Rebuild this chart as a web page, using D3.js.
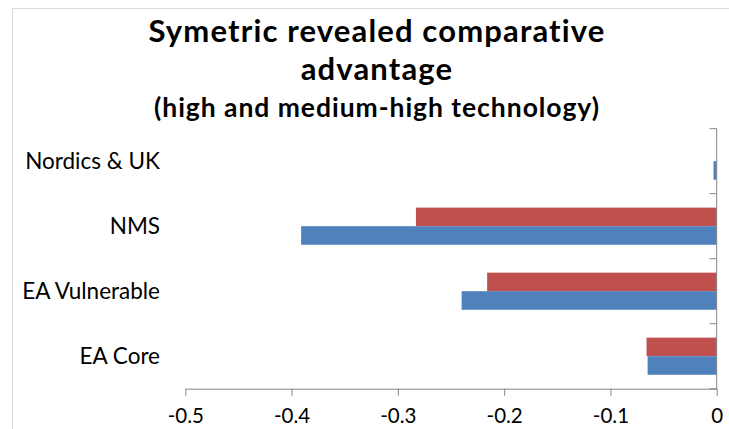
<!DOCTYPE html>
<html>
<head>
<meta charset="utf-8">
<script src="https://cdn.jsdelivr.net/npm/d3@7"></script>
<style>
  html, body { margin: 0; padding: 0; background: #fff; }
  svg { display: block; }
  text { font-family: Lato, "Open Sans", sans-serif; fill: #000; }
</style>
</head>
<body>
<svg id="chart" width="729" height="429"></svg>
<script>
// Categories listed bottom to top, as they appear on the axis
const categories = ["EA Core", "EA Vulnerable", "NMS", "Nordics & UK"];
const blueValues = [-0.065, -0.240, -0.391, -0.003];
const redValues  = [-0.066, -0.216, -0.283, 0.000];
const xTicks = [-0.5, -0.4, -0.3, -0.2, -0.1, 0];
const titleLines = ["Symetric revealed comparative", "advantage"];
const subtitle = "(high and medium-high technology)";

const svg = d3.select("#chart");
const W = 729, H = 429;
const plot = { left: 185.3, right: 716.7, top: 128.7, bottom: 388.7 };

// chart frame
svg.append("rect")
  .attr("x", 12.5).attr("y", 8.5)
  .attr("width", W).attr("height", H)
  .attr("fill", "none").attr("stroke", "#d9d9d9").attr("stroke-width", 1);

// titles
const cx = 377;
svg.append("text").attr("x", cx).attr("y", 42)
  .attr("text-anchor", "middle").attr("font-weight", 700).attr("font-size", 31)
  .attr("letter-spacing", 1.15)
  .text(titleLines[0]);
svg.append("text").attr("x", cx).attr("y", 80)
  .attr("text-anchor", "middle").attr("font-weight", 700).attr("font-size", 31)
  .attr("letter-spacing", 1.15)
  .text(titleLines[1]);
svg.append("text").attr("x", cx).attr("y", 117)
  .attr("text-anchor", "middle").attr("font-weight", 700).attr("font-size", 26.5)
  .attr("letter-spacing", 0.95)
  .text(subtitle);

// scales
const x = d3.scaleLinear().domain([-0.5, 0]).range([plot.left, plot.right]);
const y = d3.scaleBand()
  .domain(categories.slice().reverse())
  .range([plot.top, plot.bottom])
  .padding(0);
const sub = d3.scaleBand()
  .domain(["red", "blue"])
  .range([0, y.bandwidth()])
  .paddingInner(0).paddingOuter(0.75);

const rows = categories.map((c, i) => ({ cat: c, red: redValues[i], blue: blueValues[i] }));
const colors = { red: "#c0504d", blue: "#4f81bd" };

const g = svg.append("g");
["red", "blue"].forEach(s => {
  g.selectAll("rect." + s)
    .data(rows)
    .join("rect")
    .attr("class", s)
    .attr("x", d => x(Math.min(0, d[s])))
    .attr("width", d => Math.abs(x(d[s]) - x(0)))
    .attr("y", d => y(d.cat) + sub(s))
    .attr("height", sub.bandwidth())
    .attr("fill", colors[s]);
});

// value axis
const xAxis = d3.axisBottom(x)
  .tickValues(xTicks)
  .tickSize(7)
  .tickSizeOuter(0)
  .tickFormat(d => d === 0 ? "0" : String(d));
const xa = svg.append("g")
  .attr("transform", `translate(0,${plot.bottom})`)
  .call(xAxis);
xa.selectAll("path, line").attr("stroke", "#868686");
xa.selectAll("text")
  .attr("font-size", 20.5)
  .attr("dy", null)
  .attr("y", 34)
  .style("font-family", "Lato, 'Open Sans', sans-serif")
  .attr("fill", "#000");

// category axis at zero, ticks on band boundaries
const boundaries = y.domain().map(c => y(c)).concat([plot.bottom]);
const ya = svg.append("g");
ya.append("line")
  .attr("x1", x(0)).attr("x2", x(0))
  .attr("y1", plot.top).attr("y2", plot.bottom)
  .attr("stroke", "#868686");
ya.selectAll("line.tick")
  .data(boundaries)
  .join("line")
  .attr("class", "tick")
  .attr("x1", x(0) - 7).attr("x2", x(0))
  .attr("y1", d => d).attr("y2", d => d)
  .attr("stroke", "#868686");

// category labels
svg.append("g").selectAll("text")
  .data(categories)
  .join("text")
  .attr("x", 160)
  .attr("y", d => y(d) + y.bandwidth() / 2)
  .attr("dy", "0.35em")
  .attr("text-anchor", "end")
  .attr("font-size", 22.5)
  .text(d => d);
</script>
</body>
</html>
